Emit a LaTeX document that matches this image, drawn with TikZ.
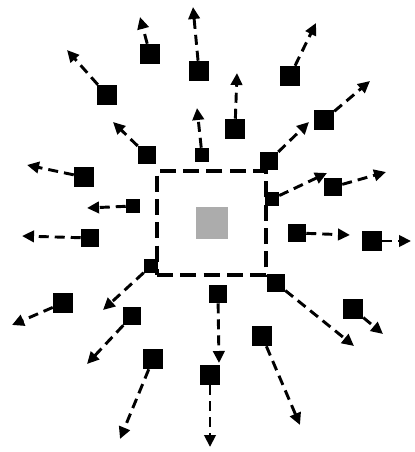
\documentclass[tikz,border=0pt]{standalone}
\usepackage{tikz}
\usetikzlibrary{arrows.meta}

\begin{document}
\begin{tikzpicture}[x=0.75pt, y=-0.75pt,
  blk/.style={fill=black, inner sep=0pt, minimum size=15pt},
  blkm/.style={blk, minimum size=13.5pt},
  blks/.style={blk, minimum size=10.5pt},
  mv/.style={line width=2.2pt, dash pattern=on 7.5pt off 4.5pt, -{Triangle[length=9pt,width=8.5pt]}},
  frame/.style={draw, line width=2.4pt, dash pattern=on 12pt off 5.5pt, inner sep=0pt,
    minimum width=81.75pt, minimum height=78pt}]

\useasboundingbox (0,0) rectangle (414,452);

% the marked cell and its window
\node[fill=gray!65, inner sep=0pt, minimum size=24pt] (c) at (211.5,223) {};
\node[frame] (box) at (211.5,223) {};

% squares
\node[blk]  (a) at (150,54)  {};
\node[blk]  (b) at (199,71)  {};
\node[blk]  (cc) at (107,95) {};
\node[blkm] (d) at (147,155) {};
\node[blks] (e) at (202,155) {};
\node[blk]  (f) at (84,177)  {};
\node[blks] (g) at (133,206) {};
\node[blk]  (h) at (290,76)  {};
\node[blk]  (i) at (324,120) {};
\node[blkm] (j) at (269,161) {};
\node[blkm] (k) at (333,187) {};
\node[blks] (l) at (272,199) {};
\node[blkm] (m) at (90,238)  {};
\node[blks] (n) at (151,266) {};
\node[blk]  (o) at (63,303)  {};
\node[blkm] (p) at (132,316) {};
\node[blk]  (q) at (153,359) {};
\node[blkm] (r) at (297,233) {};
\node[blk]  (s) at (372,241) {};
\node[blkm] (t) at (276,283) {};
\node[blk]  (u) at (353,309) {};
\node[blkm] (v) at (218,294) {};
\node[blk]  (w) at (210,375) {};
\node[blk]  (x) at (262,336) {};
\node[blk]  (y) at (235,129) {};

% where the arrows end
\coordinate (ta) at (140,17);
\coordinate (tb) at (193,7);
\coordinate (tc) at (67,50);
\coordinate (td) at (113,122);
\coordinate (te) at (197,108);
\coordinate (tf) at (27,165);
\coordinate (tg) at (87,208);
\coordinate (th) at (316,23);
\coordinate (ti) at (370,81);
\coordinate (tj) at (309,122);
\coordinate (tk) at (386,172);
\coordinate (tl) at (327,173);
\coordinate (tm) at (22,236);
\coordinate (tn) at (103,310);
\coordinate (to) at (12,325);
\coordinate (tp) at (87,364);
\coordinate (tq) at (120,439);
\coordinate (tr) at (350,235);
\coordinate (ts) at (411,241);
\coordinate (tt) at (354,346);
\coordinate (tu) at (383,334);
\coordinate (tv) at (219,363);
\coordinate (tw) at (210,447);
\coordinate (tx) at (300,425);
\coordinate (ty) at (237,73);

% moves
\draw[mv] (a) -- (ta);
\draw[mv] (b) -- (tb);
\draw[mv] (cc) -- (tc);
\draw[mv] (d) -- (td);
\draw[mv] (e) -- (te);
\draw[mv] (f) -- (tf);
\draw[mv] (g) -- (tg);
\draw[mv] (h) -- (th);
\draw[mv] (i) -- (ti);
\draw[mv] (j) -- (tj);
\draw[mv] (k) -- (tk);
\draw[mv] (l) -- (tl);
\draw[mv] (m) -- (tm);
\draw[mv] (n) -- (tn);
\draw[mv] (o) -- (to);
\draw[mv] (p) -- (tp);
\draw[mv] (q) -- (tq);
\draw[mv] (r) -- (tr);
\draw[mv] (s) -- (ts);
\draw[mv] (t) -- (tt);
\draw[mv] (u) -- (tu);
\draw[mv] (v) -- (tv);
\draw[mv] (w) -- (tw);
\draw[mv] (x) -- (tx);
\draw[mv] (y) -- (ty);

\end{tikzpicture}
\end{document}
